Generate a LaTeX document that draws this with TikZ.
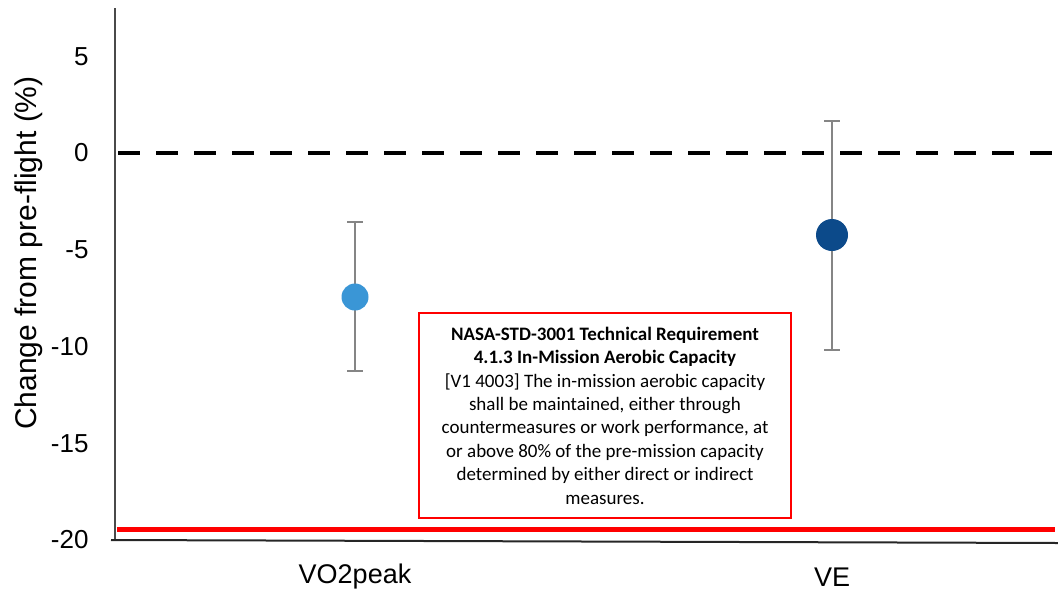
\documentclass[tikz,border=0pt]{standalone}
\usepackage{fontspec}
\setmainfont{Liberation Sans}
\newfontfamily\boxfont{Carlito}
\usetikzlibrary{calc}

\definecolor{vocol}{HTML}{3A96D6}
\definecolor{vecol}{HTML}{0C4A8A}
\definecolor{barcol}{HTML}{858585}
\definecolor{axiscol}{HTML}{4A4A4A}

\tikzset{
  ticklab/.style={anchor=east,font=\fontsize{26}{30}\selectfont},
  catlab/.style={font=\fontsize{27}{31}\selectfont},
  errbar/.style={draw=barcol,line width=2.4pt},
  reqbox/.style={draw=red,line width=1.3pt,minimum width=372pt,minimum height=205pt,
    inner sep=0pt,align=center,font=\boxfont\fontsize{19}{23.4}\selectfont}
}

\begin{document}
\begin{tikzpicture}[x=1pt,y=-1pt]
\useasboundingbox (0,0) rectangle (1058,590);

% axes
\draw[axiscol,line width=2pt] (115,8) -- (115,540);
\draw[black!85,line width=2pt] (111,540) -- (1058,543);

% tick labels, 19.35px per percent
\foreach \v in {5,0,-5,-10,-15,-20}
  \node[ticklab] at (92,{153-19.35*\v}) {\v};
\node[rotate=90,font=\fontsize{30}{34}\selectfont] (ylab) at (29,253) {Change from pre-flight (\%)};

% zero line and the 80% limit
\draw[black,line width=4pt,dash pattern=on 22pt off 16pt] (118,153) -- (1058,153);
\draw[red,line width=5pt] (117,529) -- (1055,529);

% VO2peak
\coordinate (vohi) at (355,222);
\coordinate (volo) at (355,371);
\draw[errbar] (vohi) -- (volo);
\draw[errbar] ($(vohi)+(-8,0)$) -- ($(vohi)+(8,0)$);
\draw[errbar] ($(volo)+(-8,0)$) -- ($(volo)+(8,0)$);
\fill[vocol] (355,297) circle[radius=13.5pt];

% VE
\coordinate (vehi) at (832,121);
\coordinate (velo) at (832,350);
\draw[errbar] (vehi) -- (velo);
\draw[errbar] ($(vehi)+(-8,0)$) -- ($(vehi)+(8,0)$);
\draw[errbar] ($(velo)+(-8,0)$) -- ($(velo)+(8,0)$);
\fill[vecol] (832,235) circle[radius=16pt];

\node[catlab] (vo) at (355,577) {VO2peak};
\node[catlab] (ve) at (832,577) {VE};

\node[reqbox,fill=white] (req) at (605,415.5) {%
  \textbf{NASA-STD-3001 Technical Requirement}\\
  \textbf{4.1.3 In-Mission Aerobic Capacity}\\
  {[V1 4003]} The in-mission aerobic capacity\\
  shall be maintained, either through\\
  countermeasures or work performance, at\\
  or above 80\% of the pre-mission capacity\\
  determined by either direct or indirect\\
  measures.};

\end{tikzpicture}
\end{document}
